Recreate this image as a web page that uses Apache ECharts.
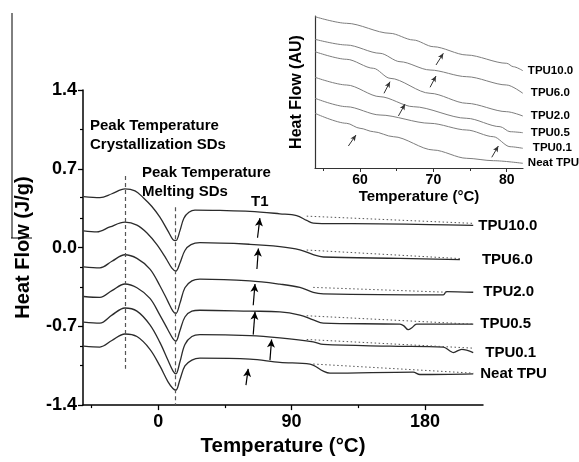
<!DOCTYPE html>
<html><head><meta charset="utf-8">
<script src="https://cdn.jsdelivr.net/npm/echarts@6/dist/echarts.min.js"></script>
<style>html,body{margin:0;padding:0;background:#fff}#c{width:579px;height:462px}</style>
</head><body><div id="c"></div>
<script>
// ---------------- DATA ----------------
const seriesNames = ['TPU10.0', 'TPU6.0', 'TPU2.0', 'TPU0.5', 'TPU0.1', 'Neat TPU'];

// Main DSC curves: [temperature °C, heat flow J/g]
const mainTPU10 = [[-50.4,0.452],[-39.4,0.443],[-31.3,0.478],[-22.5,0.522],[-15.7,0.504],[-10.1,0.443],[-4.3,0.365],[1.1,0.270],[6.5,0.148],[9.9,0.070],[11.9,0.061],[14.6,0.148],[17.3,0.261],[20.7,0.313],[24.8,0.333],[41.6,0.330],[61.9,0.322],[82.1,0.300],[93.4,0.284],[100.2,0.241],[104.6,0.217],[111.4,0.213],[149.6,0.211],[183.4,0.204],[212.6,0.197]];
const mainTPU6 = [[-50.4,0.148],[-41.4,0.139],[-32.6,0.183],[-22.5,0.226],[-14.4,0.200],[-7.6,0.130],[-0.9,0.026],[5.2,-0.096],[9.2,-0.183],[11.9,-0.209],[14.6,-0.139],[18.0,-0.026],[22.1,0.026],[28.1,0.043],[61.9,0.029],[82.1,0.009],[95.6,-0.020],[104.6,-0.063],[111.4,-0.084],[163.1,-0.096],[203.6,-0.107]];
const mainTPU2 = [[-50.4,-0.171],[-39.4,-0.180],[-31.3,-0.122],[-22.5,-0.064],[-14.4,-0.096],[-5.6,-0.191],[1.1,-0.339],[6.5,-0.478],[9.9,-0.565],[11.9,-0.585],[14.6,-0.496],[18.0,-0.357],[22.7,-0.296],[28.1,-0.281],[61.9,-0.296],[82.1,-0.325],[95.6,-0.354],[104.6,-0.398],[111.4,-0.411],[192.4,-0.420],[194.6,-0.391],[212.6,-0.397]];
const mainTPU05 = [[-50.4,-0.435],[-39.4,-0.443],[-31.3,-0.383],[-22.5,-0.324],[-14.4,-0.357],[-5.6,-0.452],[1.1,-0.600],[6.5,-0.730],[9.9,-0.809],[11.9,-0.832],[14.6,-0.739],[18.0,-0.617],[22.7,-0.565],[28.1,-0.557],[61.9,-0.565],[82.1,-0.571],[95.6,-0.600],[104.6,-0.643],[111.4,-0.672],[163.1,-0.681],[165.8,-0.696],[168.7,-0.730],[171.2,-0.713],[174.4,-0.681],[212.6,-0.681]];
const mainTPU01 = [[-50.4,-0.663],[-39.4,-0.672],[-31.3,-0.600],[-22.5,-0.537],[-14.4,-0.565],[-5.6,-0.687],[1.1,-0.843],[6.5,-1.000],[9.9,-1.096],[11.9,-1.122],[14.6,-1.017],[18.0,-0.861],[22.7,-0.791],[28.1,-0.774],[61.9,-0.783],[82.1,-0.803],[104.6,-0.838],[111.4,-0.861],[156.4,-0.876],[192.4,-0.884],[196.9,-0.919],[199.1,-0.933],[204.8,-0.904],[212.6,-0.933]];
const mainNeat = [[-50.4,-0.876],[-39.4,-0.884],[-31.3,-0.826],[-22.5,-0.768],[-14.4,-0.791],[-5.6,-0.904],[1.1,-1.052],[6.5,-1.191],[9.9,-1.252],[11.9,-1.267],[14.6,-1.174],[18.0,-1.052],[22.7,-1.000],[28.1,-0.983],[61.9,-0.991],[82.1,-1.020],[102.4,-1.035],[111.4,-1.098],[115.9,-1.116],[172.1,-1.107],[176.6,-1.128],[212.6,-1.122]];

// Dotted extrapolated baselines: [start, end]
const baseTPU10 = [[100.2,0.279],[212.6,0.215]];
const baseTPU6 = [[100.2,-0.022],[203.6,-0.098]];
const baseTPU2 = [[104.6,-0.354],[194.6,-0.397]];
const baseTPU05 = [[100.2,-0.606],[212.6,-0.681]];
const baseTPU01 = [[100.2,-0.817],[212.6,-0.894]];
const baseNeat = [[104.6,-1.035],[212.6,-1.116]];

// T1 arrows (tail -> head) in main chart
const mainArrows = [[[67.0,0.087],[68.6,0.261]],[[66.6,-0.191],[67.6,-0.009]],[[64.1,-0.513],[65.3,-0.324]],[[64.1,-0.774],[65.3,-0.571]],[[75.4,-1.000],[76.5,-0.817]],[[59.2,-1.223],[60.7,-1.078]]];
// Peak temperature guide lines (crystallization, melting)
const peakLines = [[[-22.5,0.636],[-22.5,-1.076]],[[11.3,0.358],[11.3,-1.4]]];

// Inset curves: [temperature °C, heat flow AU]
const insetTPU10 = [[53.86,151.3],[58.18,144.7],[64.09,134.7],[67.27,128.0],[70.0,121.3],[74.55,113.0],[80.0,104.7],[80.9,101.3],[82.2,97.3]];
const insetTPU6 = [[53.86,128.7],[58.18,123.0],[62.73,114.7],[65.45,106.3],[69.55,98.0],[74.55,91.3],[80.0,83.0],[82.2,74.7]];
const insetTPU2 = [[53.86,116.3],[58.18,108.7],[61.82,99.7],[64.09,89.7],[69.55,74.7],[74.55,64.7],[80.0,56.3],[82.2,52.0]];
const insetTPU05 = [[53.86,90.7],[58.18,83.0],[62.73,71.3],[67.27,61.3],[74.55,49.7],[79.1,41.3],[80.45,36.3],[82.2,35.3]];
const insetTPU01 = [[53.86,69.7],[58.18,61.3],[62.73,53.0],[69.55,44.7],[74.55,38.0],[78.18,31.3],[80.45,21.3],[82.2,19.7]];
const insetNeat = [[53.86,54.7],[58.18,44.7],[60.0,39.7],[61.82,36.3],[64.55,31.3],[70.0,18.0],[74.55,9.7],[78.18,7.3],[82.2,4.7]];
const insetArrows = [[[70.36,103],[71.36,114.7]],[[69.55,80.7],[70.36,92]],[[63.27,74.7],[64.09,86.3]],[[65.23,52],[66.14,64]],[[58.41,22],[59.45,33]],[[77.96,10.7],[78.86,22]]];

// Axis ticks
const mainXTicks = [0, 90, 180];
const mainXMinor = [-45, 45, 135];
const mainYMinor = [1.05, 0.451, 0.256, -0.178, -0.352, -0.873, -1.047];
const insetXTicks = [60, 70, 80];
const insetXMinor = [55, 65, 75];

// ---------------- CHART ----------------
const FONT = "'Liberation Sans', Arial, sans-serif";
const mainCurves = [mainTPU10, mainTPU6, mainTPU2, mainTPU05, mainTPU01, mainNeat];
const baselines = [baseTPU10, baseTPU6, baseTPU2, baseTPU05, baseTPU01, baseNeat];
const insetCurves = [insetTPU10, insetTPU6, insetTPU2, insetTPU05, insetTPU01, insetNeat];
const mainGap = [5, 22, 10, 7, 12, 7];
const insetGap = [5, 8, 8, 8, 10, 5];

const series = [];
mainCurves.forEach((d, i) => {
  series.push({
    type: 'line', name: seriesNames[i], xAxisIndex: 0, yAxisIndex: 0, data: d,
    showSymbol: false, smooth: 0.35, silent: true,
    lineStyle: {color: '#2b2b2b', width: 1.3},
    endLabel: {show: true, formatter: seriesNames[i], distance: mainGap[i], fontSize: 15, fontWeight: 'bold', color: '#000', fontFamily: FONT}
  });
});
baselines.forEach((d, i) => {
  series.push({
    type: 'line', xAxisIndex: 0, yAxisIndex: 0, data: d, showSymbol: false, silent: true,
    lineStyle: {color: '#555', width: 1, type: [1.5, 2.5]},
    markLine: i === 0 ? {
      silent: true, animation: false, label: {show: false},
      data: mainArrows.map(a => [{coord: a[0], symbol: 'none'}, {coord: a[1], symbol: 'arrow', symbolSize: [6, 8]}])
        .concat(peakLines.map(a => [{coord: a[0], symbol: 'none', lineStyle: {type: [4, 3], color: '#555', width: 1.2}}, {coord: a[1], symbol: 'none'}])),
      lineStyle: {color: '#000', width: 1.2, type: 'solid'}
    } : undefined
  });
});
insetCurves.forEach((d, i) => {
  series.push({
    type: 'line', name: 'inset ' + seriesNames[i], xAxisIndex: 2, yAxisIndex: 2, data: d,
    showSymbol: false, smooth: 0.3, smoothMonotone: 'x', silent: true,
    lineStyle: {color: '#7d7d7d', width: 1},
    endLabel: {show: true, formatter: seriesNames[i], distance: insetGap[i], fontSize: 11.5, fontWeight: 'bold', color: '#000', fontFamily: FONT},
    markLine: i === 0 ? {
      silent: true, animation: false, label: {show: false},
      lineStyle: {color: '#333', width: 1, type: 'solid'},
      data: insetArrows.map(a => [{coord: a[0], symbol: 'none'}, {coord: a[1], symbol: 'arrow', symbolSize: [4, 6]}])
    } : undefined
  });
});

const option = {
  animation: false,
  backgroundColor: '#fff',
  textStyle: {fontFamily: FONT},
  grid: [
    {left: 83, top: 90, width: 400, height: 322},
    {left: 315, top: 16, width: 208, height: 152}
  ],
  xAxis: [
    {type: 'value', gridIndex: 0, min: -50.8, max: 219.2, position: 'bottom',
     axisLine: {onZero: false, lineStyle: {color: '#000', width: 1.5}}, splitLine: {show: false},
     axisTick: {customValues: mainXTicks, length: 5, lineStyle: {color: '#000', width: 1.3}},
     axisLabel: {customValues: mainXTicks, fontSize: 18, fontWeight: 'bold', color: '#000', margin: 8},
     name: 'Temperature (°C)', nameLocation: 'middle', nameGap: 29,
     nameTextStyle: {fontSize: 20.5, fontWeight: 'bold', color: '#000'}},
    {type: 'value', gridIndex: 0, min: -50.8, max: 219.2, position: 'bottom',
     axisLine: {show: false, onZero: false}, splitLine: {show: false}, axisLabel: {show: false},
     axisTick: {customValues: mainXMinor, length: 3, lineStyle: {color: '#000', width: 1.2}}},
    {type: 'value', gridIndex: 1, min: 53.86, max: 82.22, position: 'bottom',
     axisLine: {onZero: false, lineStyle: {color: '#333', width: 1.2}}, splitLine: {show: false},
     axisTick: {customValues: insetXTicks, length: 4, lineStyle: {color: '#333'}},
     axisLabel: {customValues: insetXTicks, fontSize: 14, fontWeight: 'bold', color: '#000', margin: 5},
     name: 'Temperature (°C)', nameLocation: 'middle', nameGap: 21,
     nameTextStyle: {fontSize: 15, fontWeight: 'bold', color: '#000'}},
    {type: 'value', gridIndex: 1, min: 53.86, max: 82.22, position: 'bottom',
     axisLine: {show: false, onZero: false}, splitLine: {show: false}, axisLabel: {show: false},
     axisTick: {customValues: insetXMinor, length: 3, lineStyle: {color: '#333'}}}
  ],
  yAxis: [
    {type: 'value', gridIndex: 0, min: -1.4, max: 1.4, interval: 0.7, position: 'left',
     axisLine: {show: true, onZero: false, lineStyle: {color: '#000', width: 1.5}}, splitLine: {show: false},
     axisTick: {show: true, length: 5, lineStyle: {color: '#000', width: 1.3}},
     axisLabel: {fontSize: 18, fontWeight: 'bold', color: '#000', margin: 6, formatter: v => v.toFixed(1)},
     name: 'Heat Flow (J/g)', nameLocation: 'middle', nameGap: 50,
     nameTextStyle: {fontSize: 20, fontWeight: 'bold', color: '#000'}},
    {type: 'value', gridIndex: 0, min: -1.4, max: 1.4, position: 'left',
     axisLine: {show: false, onZero: false}, splitLine: {show: false}, axisLabel: {show: false},
     axisTick: {show: true, customValues: mainYMinor, length: 3, lineStyle: {color: '#000', width: 1.2}}},
    {type: 'value', gridIndex: 1, min: 0, max: 152, position: 'left',
     axisLine: {show: true, onZero: false, lineStyle: {color: '#333', width: 1.2}}, splitLine: {show: false},
     axisTick: {show: false}, axisLabel: {show: false},
     name: 'Heat Flow (AU)', nameLocation: 'middle', nameGap: 10,
     nameTextStyle: {fontSize: 16, fontWeight: 'bold', color: '#000'}}
  ],
  graphic: [
    {type: 'text', left: 90, top: 117, silent: true,
     style: {text: 'Peak Temperature\nCrystallization SDs', font: 'bold 15px ' + FONT, fill: '#000', lineHeight: 18.5}},
    {type: 'text', left: 142, top: 163, silent: true,
     style: {text: 'Peak Temperature\nMelting SDs', font: 'bold 15px ' + FONT, fill: '#000', lineHeight: 19.5}},
    {type: 'text', left: 251, top: 194, silent: true,
     style: {text: 'T1', font: 'bold 15px ' + FONT, fill: '#000'}},
    {type: 'line', silent: true, shape: {x1: 12, y1: 13, x2: 12, y2: 238}, style: {stroke: '#000', lineWidth: 1}},
    {type: 'line', silent: true, shape: {x1: 11, y1: 238, x2: 32, y2: 238}, style: {stroke: '#000', lineWidth: 1}}
  ],
  series: series
};
const chart = echarts.init(document.getElementById('c'), null, {renderer: 'canvas'});
chart.setOption(option);
</script></body></html>
